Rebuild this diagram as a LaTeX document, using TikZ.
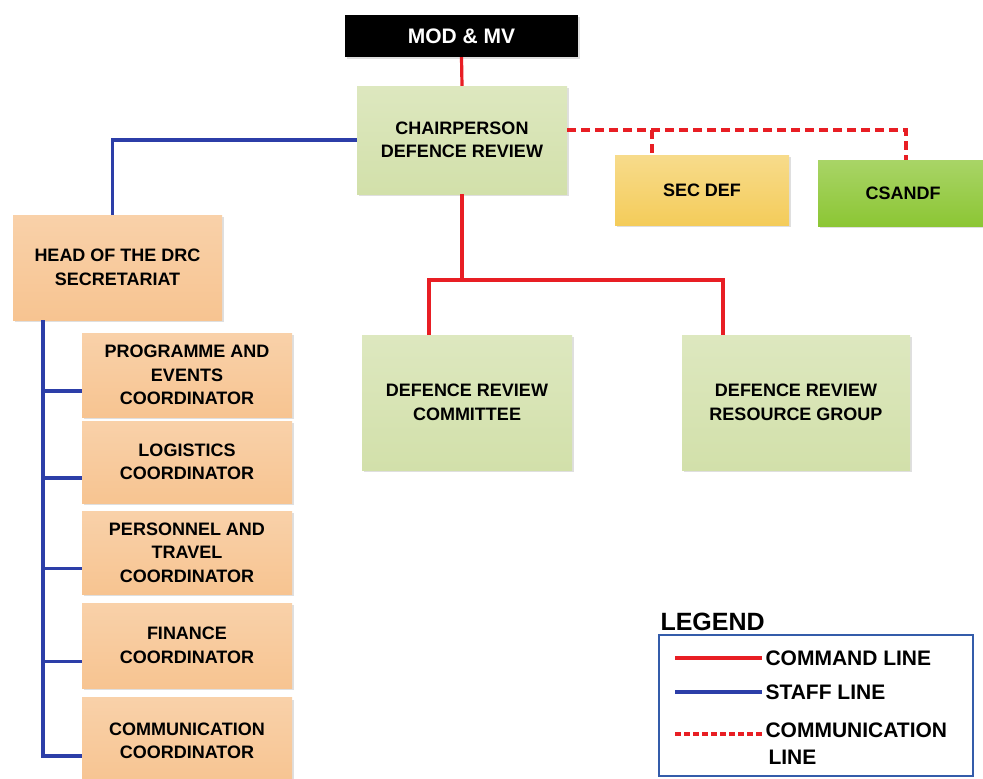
\documentclass[tikz,border=0pt]{standalone}
\usepackage{fontspec}
\setmainfont{Liberation Sans}
\usetikzlibrary{shadows}
\definecolor{cmdred}{RGB}{232,30,36}
\definecolor{stafblue}{RGB}{44,62,168}
\definecolor{olivebox}{RGB}{210,224,170}
\definecolor{peachbox}{RGB}{247,196,145}
\definecolor{goldbox}{RGB}{244,204,90}
\definecolor{limebox}{RGB}{140,198,52}
\definecolor{legframe}{RGB}{52,92,170}
\tikzset{orgchart/.style={x=1pt,y=-1pt,font=\bfseries\fontsize{18}{23.5}\selectfont}}
\tikzset{orgbox/.style={inner sep=0pt,align=center,
           drop shadow={shadow xshift=2pt,shadow yshift=-2pt,opacity=0.25}},
         greenbox/.style={orgbox,top color=olivebox!75!white,bottom color=olivebox},
         peach/.style={orgbox,top color=peachbox!78!white,bottom color=peachbox,minimum width=210},
         cmdline/.style={cmdred,line width=3.2pt},
         stafline/.style={stafblue,line width=3.2pt},
         commline/.style={cmdred,line width=3.2pt,dash pattern=on 9pt off 5pt}}

\begin{document}
\begin{tikzpicture}[orgchart]
    \useasboundingbox (0,0) rectangle (983,779);
    \fill[white] (0,0) rectangle (983,779);
    % top of the chain
    \node[orgbox,fill=black,text=white,minimum width=233,minimum height=42,
          font=\bfseries\fontsize{21}{24}\selectfont] (mod) at (461.5,36) {MOD \& MV};
    \node[greenbox,minimum width=210,minimum height=108] (chair) at (462,140) {CHAIRPERSON\\DEFENCE REVIEW};
    \node[orgbox,top color=goldbox!70!white,bottom color=goldbox,minimum width=174,minimum height=70] (secdef) at (702,190) {SEC DEF};
    \node[orgbox,top color=limebox!75!white,bottom color=limebox,minimum width=170,minimum height=66] (csandf) at (903,193) {CSANDF};
    \node[greenbox,minimum width=210,minimum height=135] (committee) at (467,402.5) {DEFENCE REVIEW\\COMMITTEE};
    \node[greenbox,minimum width=228,minimum height=135] (resource) at (796,402.5) {DEFENCE REVIEW\\RESOURCE GROUP};
    % secretariat
    \node[peach,minimum width=209,minimum height=105] (head) at (117.5,267.5) {HEAD OF THE DRC\\SECRETARIAT};
    \node[peach,minimum height=84] (prog) at (187,375) {PROGRAMME AND\\EVENTS\\COORDINATOR};
    \node[peach,minimum height=82] (logi) at (187,462) {LOGISTICS\\COORDINATOR};
    \node[peach,minimum height=83] (pers) at (187,552.5) {PERSONNEL AND\\TRAVEL\\COORDINATOR};
    \node[peach,minimum height=85] (fin) at (187,645.5) {FINANCE\\COORDINATOR};
    \node[peach,minimum height=87] (comm) at (187,741) {COMMUNICATION\\COORDINATOR};
    % command lines
    \coordinate (cmdsplit) at (462,280);
    \draw[cmdline] (mod.south) -- (chair.north);
    \draw[cmdline] (chair.south) -- (cmdsplit);
    \draw[cmdline] ([xshift=-38]committee.north) |- (cmdsplit) -| ([xshift=-73]resource.north);
    % communication lines
    \coordinate (commtap) at (652,130);
    \draw[commline] ([yshift=10]chair.east) -| ([xshift=3]csandf.north);
    \draw[commline] (commtap) -- ([xshift=-50]secdef.north);
    % staff lines
    \coordinate (spine) at (43,320);
    \draw[stafline] (chair.west) -| ([xshift=-5]head.north);
    \draw[stafline] (spine) |- ([yshift=-15]comm.west);
    \foreach \b in {prog,logi,pers,fin}
        \draw[stafline] (spine) |- ([yshift=-16]\b.west);
    % legend
    \node[anchor=base west,font=\bfseries\fontsize{25}{28}\selectfont] (legtitle) at (657,630) {LEGEND};
    \node[draw=legframe,line width=1.5pt,minimum width=314,minimum height=141,anchor=north west] (legend) at (658,634) {};
    \node[anchor=west,font=\bfseries\fontsize{21}{26}\selectfont] (legcmd) at (762,658) {COMMAND LINE};
    \node[anchor=west,font=\bfseries\fontsize{21}{26}\selectfont] (legstaf) at (762,692) {STAFF LINE};
    \node[anchor=north west,align=left,font=\bfseries\fontsize{21}{27}\selectfont] (legcomm) at (762,719)
        {COMMUNICATION\\\hspace*{3pt}LINE};
    \draw[cmdline] ([xshift=-87]legcmd.west) -- (legcmd.west);
    \draw[stafline] ([xshift=-87]legstaf.west) -- (legstaf.west);
    \draw[commline,dash pattern=on 6pt off 3pt] ([xshift=-87,yshift=-15]legcomm.north west) -- ([yshift=-15]legcomm.north west);
\end{tikzpicture}
\end{document}
